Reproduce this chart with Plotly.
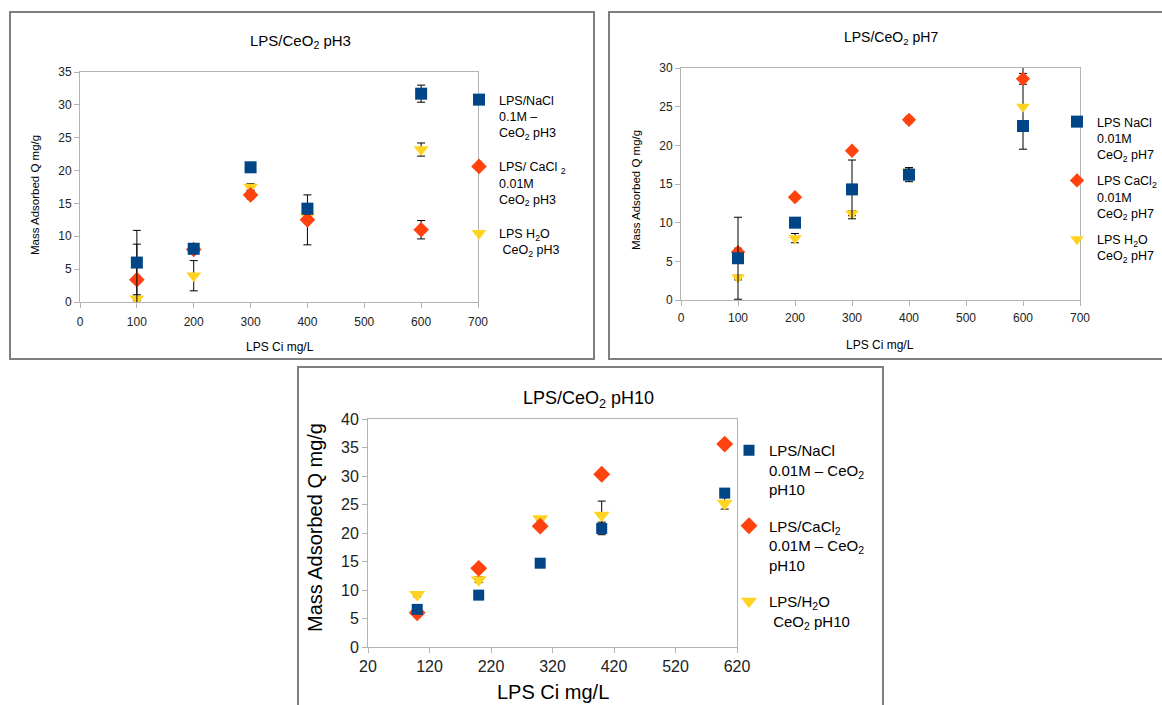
import plotly.graph_objects as go

# ---------------- data ----------------
conc = [100, 200, 300, 400, 600]

# pH3
ph3_nacl = [6.0, 8.1, 20.5, 14.2, 31.7]
ph3_nacl_err = [4.9, 0.6, 0.6, 0.8, 1.3]
ph3_cacl2 = [3.4, 8.0, 16.3, 12.5, 11.0]
ph3_cacl2_err = [5.4, 0.5, 0.6, 3.8, 1.4]
ph3_h2o = [0.5, 4.0, 17.5, 13.0, 23.2]
ph3_h2o_err = [0.3, 2.3, 0.5, 0.5, 1.0]

# pH7
ph7_nacl = [5.4, 10.0, 14.3, 16.2, 22.5]
ph7_nacl_err = [5.3, 0.3, 3.8, 0.9, 0.5]
ph7_cacl2 = [6.2, 13.3, 19.3, 23.3, 28.6]
ph7_cacl2_err = [0.5, 0.3, 0.3, 0.4, 0.7]
ph7_h2o = [2.9, 8.0, 11.2, 16.6, 25.0]
ph7_h2o_err = [0.3, 0.6, 0.3, 0.5, 5.5]

# pH10
ph10_nacl = [6.6, 9.1, 14.7, 20.8, 27.0]
ph10_nacl_err = [0.4, 0.2, 0.4, 1.1, 0.4]
ph10_cacl2 = [6.0, 13.8, 21.2, 30.3, 35.6]
ph10_cacl2_err = [0.3, 0.2, 0.3, 0.3, 0.5]
ph10_h2o = [9.2, 11.8, 22.5, 23.1, 25.2]
ph10_h2o_err = [0.4, 0.5, 0.3, 2.5, 1.0]

titles = ["LPS/CeO<sub>2</sub> pH3", "LPS/CeO<sub>2</sub> pH7", "LPS/CeO<sub>2</sub> pH10"]
names_ph3 = ["LPS/NaCl<br>0.1M –<br>CeO<sub>2</sub> pH3",
             "LPS/ CaCl <sub>2</sub><br>0.01M<br>CeO<sub>2</sub> pH3",
             "LPS H<sub>2</sub>O<br>\u00a0CeO<sub>2</sub> pH3"]
names_ph7 = ["LPS NaCl<br>0.01M<br>CeO<sub>2</sub> pH7",
             "LPS CaCl<sub>2</sub><br>0.01M<br>CeO<sub>2</sub> pH7",
             "LPS H<sub>2</sub>O<br>CeO<sub>2</sub> pH7"]
names_ph10 = ["LPS/NaCl<br>0.01M – CeO<sub>2</sub><br>pH10",
              "LPS/CaCl<sub>2</sub><br>0.01M – CeO<sub>2</sub><br>pH10",
              "LPS/H<sub>2</sub>O<br>\u00a0CeO<sub>2</sub> pH10"]
x_title = "LPS Ci mg/L"
y_title = "Mass Adsorbed Q mg/g"

BLUE = "#004586"
RED = "#ff420e"
YELLOW = "#ffd320"

W, H = 1162, 705
FONT = "Liberation Sans, Arial, sans-serif"


def px(x):
    return x / W


def py(y):
    return 1 - y / H


fig = go.Figure()

panels = [
    dict(ax="", legend="legend",
         series=[(ph3_h2o, ph3_h2o_err, names_ph3[2], YELLOW, "triangle-down", 13, 3),
                 (ph3_cacl2, ph3_cacl2_err, names_ph3[1], RED, "diamond", 12, 2),
                 (ph3_nacl, ph3_nacl_err, names_ph3[0], BLUE, "square", 12, 1)]),
    dict(ax="2", legend="legend2",
         series=[(ph7_h2o, ph7_h2o_err, names_ph7[2], YELLOW, "triangle-down", 12, 3),
                 (ph7_cacl2, ph7_cacl2_err, names_ph7[1], RED, "diamond", 11, 2),
                 (ph7_nacl, ph7_nacl_err, names_ph7[0], BLUE, "square", 12, 1)]),
    dict(ax="3", legend="legend3",
         series=[(ph10_h2o, ph10_h2o_err, names_ph10[2], YELLOW, "triangle-down", 14, 3),
                 (ph10_cacl2, ph10_cacl2_err, names_ph10[1], RED, "diamond", 13, 2),
                 (ph10_nacl, ph10_nacl_err, names_ph10[0], BLUE, "square", 11, 1)]),
]

for p in panels:
    for vals, errs, name, col, sym, size, rank in p["series"]:
        fig.add_trace(go.Scatter(
            x=conc, y=vals, mode="markers", name=name,
            xaxis="x" + p["ax"], yaxis="y" + p["ax"],
            legend=p["legend"], legendgroup=p["legend"] + str(rank), legendrank=rank,
            marker=dict(color=col, symbol=sym, size=size, line=dict(width=0)),
            error_y=dict(type="data", array=errs, visible=True, color="black",
                         thickness=1, width=4),
            cliponaxis=True,
        ))

AXCOL = "#b3b3b3"


def axis(domain, rng, dtick, fs, anchor, tick0=0, standoff=0):
    return dict(domain=domain, range=rng, dtick=dtick, tick0=tick0, anchor=anchor,
                showgrid=False, zeroline=False, showline=True, linecolor=AXCOL,
                linewidth=1, mirror=True, ticks="outside", ticklen=5, tickcolor=AXCOL,
                tickwidth=1, tickfont=dict(family=FONT, size=fs, color="#222222"),
                ticklabelstandoff=standoff, fixedrange=True)


layout = dict(
    width=W, height=H, margin=dict(l=0, r=0, t=0, b=0, autoexpand=False),
    paper_bgcolor="white", plot_bgcolor="white",
    font=dict(family=FONT, color="black"),
    xaxis=axis([px(80), px(478)], [0, 700], 100, 12, "y", standoff=4),
    yaxis=axis([py(302), py(72)], [0, 35], 5, 12, "x"),
    xaxis2=axis([px(681), px(1080)], [0, 700], 100, 12, "y2", standoff=2),
    yaxis2=axis([py(300), py(68)], [0, 30], 5, 12, "x2"),
    xaxis3=axis([px(368), px(737)], [20, 620], 100, 16, "y3", tick0=20),
    yaxis3=axis([py(647), py(419)], [0, 40], 5, 16, "x3"),
    legend=dict(x=px(459), y=py(85), xanchor="left", yanchor="top", valign="top",
                font=dict(family=FONT, size=12.5, color="black"), tracegroupgap=15,
                bgcolor="rgba(0,0,0,0)", itemclick=False),
    legend2=dict(x=px(1057), y=py(107), xanchor="left", yanchor="top", valign="top",
                 font=dict(family=FONT, size=12.5, color="black"), tracegroupgap=7,
                 bgcolor="rgba(0,0,0,0)", itemclick=False),
    legend3=dict(x=px(729), y=py(434), xanchor="left", yanchor="top", valign="top",
                 font=dict(family=FONT, size=15, color="black"), tracegroupgap=14,
                 bgcolor="rgba(0,0,0,0)", itemclick=False),
)
fig.update_layout(**layout)

# panel frames
for x0, y0, x1, y1 in [(10, 12, 594, 359), (609, 12, 1175, 359), (298, 367, 883, 720)]:
    fig.add_shape(type="rect", xref="paper", yref="paper",
                  x0=px(x0), x1=px(x1), y0=py(y1), y1=py(y0),
                  line=dict(color="#7f7f7f", width=2), fillcolor="rgba(0,0,0,0)", layer="below")

ann = [
    # titles
    (300, 42, titles[0], 15, 0),
    (891, 38, titles[1], 14, 0),
    (588, 399, titles[2], 18, 0),
    # x titles
    (280, 347, x_title, 12, 0),
    (880, 345, x_title, 12, 0),
    (553, 692, x_title, 20, 0),
    # y titles
    (35, 195, y_title, 11.5, -90),
    (636, 190, y_title, 11.5, -90),
    (315, 528, y_title, 20, -90),
]
for x, y, t, s, a in ann:
    fig.add_annotation(x=px(x), y=py(y), xref="paper", yref="paper", text=t,
                       showarrow=False, textangle=a, xanchor="center", yanchor="middle",
                       font=dict(family=FONT, size=s, color="black"))

fig.write_html("out.html", config={"displayModeBar": False},
               post_script="document.body.style.margin='0';document.body.style.overflow='hidden';")
